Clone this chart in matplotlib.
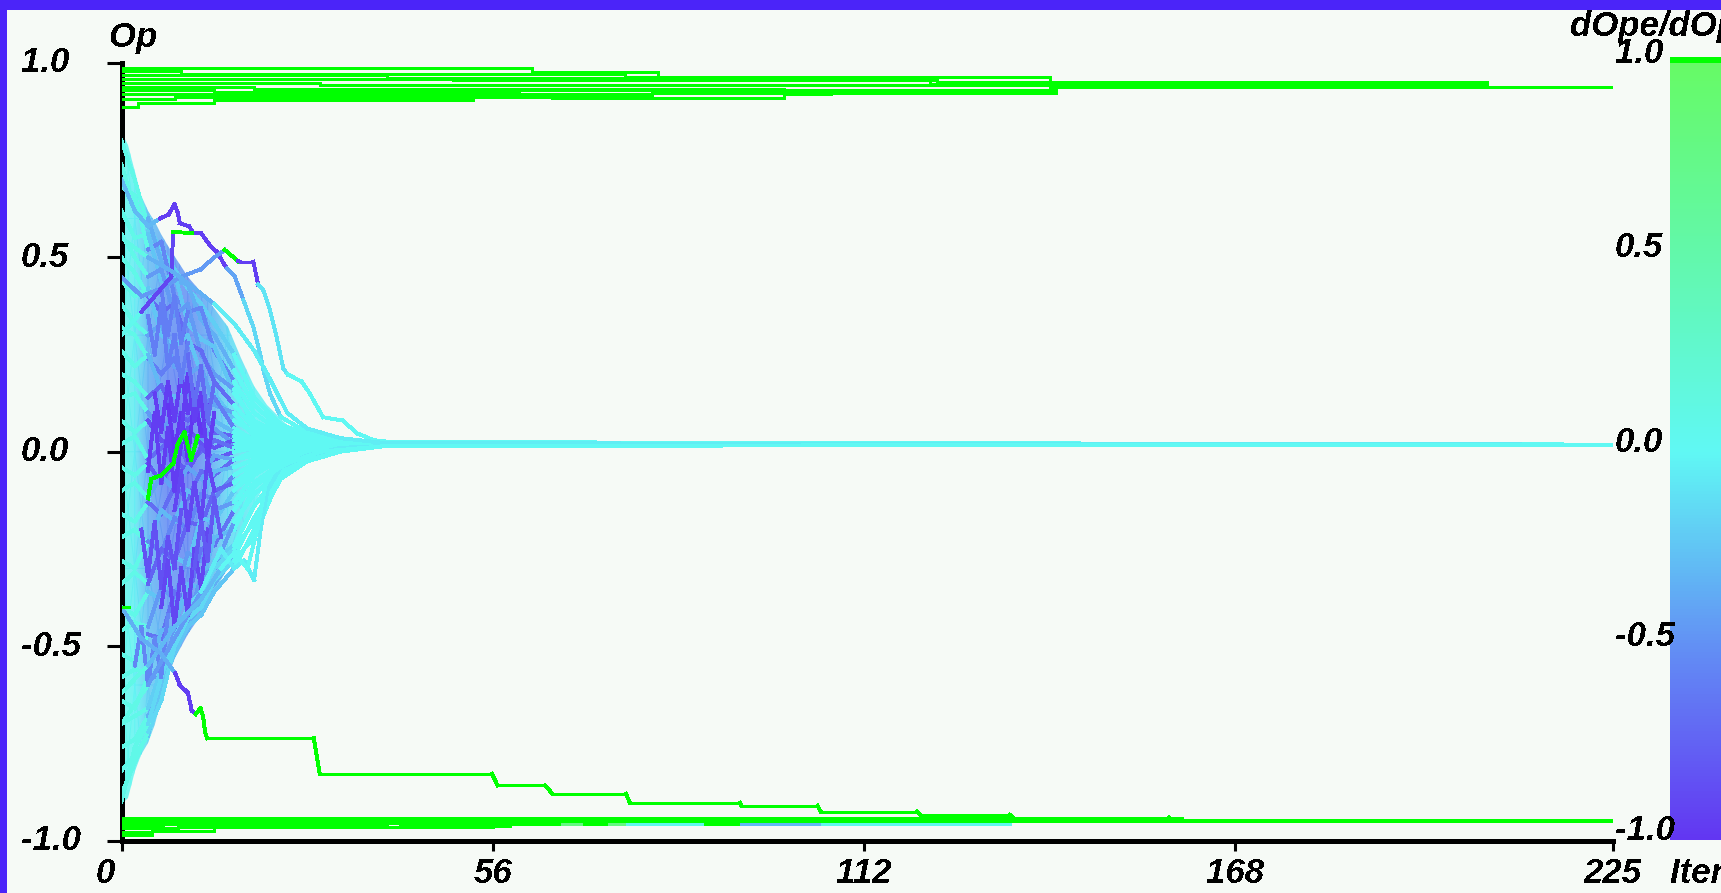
import numpy as np
import matplotlib
matplotlib.use("Agg")
import matplotlib.pyplot as plt
from matplotlib.colors import LinearSegmentedColormap, Normalize
from matplotlib.collections import LineCollection
from matplotlib.colorbar import ColorbarBase
from matplotlib.patches import Polygon, Rectangle
from matplotlib.transforms import ScaledTranslation, blended_transform_factory

plt.rcParams['text.antialiased'] = False
plt.rcParams['font.family'] = ['Liberation Sans', 'DejaVu Sans']

# ---------------------------------------------------------------- data
X_TICKS = [0, 56, 112, 168, 225]
Y_TICKS = [1.0, 0.5, 0.0, -0.5, -1.0]
CB_TICKS = [1.0, 0.5, 0.0, -0.5, -1.0]
N_ITER = 225

# agents that sit near +1 (iteration breakpoints, opinion held from there on)
UPPER_LINES = [
    ([0, 62, 81, 123, 206], [0.987, 0.976, 0.965, 0.950, 0.938]),
    ([0, 9, 76, 140, 206], [0.980, 0.972, 0.964, 0.948, 0.938]),
    ([0, 40, 81, 123, 206], [0.968, 0.962, 0.957, 0.950, 0.938]),
    ([0, 50, 122, 206], [0.958, 0.955, 0.947, 0.938]),
    ([0, 30, 140], [0.948, 0.944, 0.938]),
    ([0, 20, 100, 140], [0.938, 0.934, 0.930, 0.938]),
    ([0, 14, 60, 141], [0.930, 0.926, 0.930, 0.938]),
    ([0, 53, 80, 102, 141], [0.919, 0.921, 0.922, 0.928, 0.938]),
    ([0, 8, 65, 100, 107, 141], [0.908, 0.912, 0.910, 0.920, 0.930, 0.938]),
    ([0, 2.5, 14, 53, 80, 141], [0.888, 0.896, 0.905, 0.916, 0.922, 0.938]),
]

# agents that sit near -1
LOWER_LINES = [
    ([0, 160], [-0.941, -0.950]),
    ([0, 60], [-0.946, -0.950]),
    ([0, 7, 29], [-0.955, -0.952, -0.950]),
    ([0, 6.2, 29, 94], [-0.962, -0.958, -0.956, -0.950]),
    ([0, 8.5, 55.5, 58.6, 134], [-0.969, -0.966, -0.962, -0.957, -0.950]),
    ([0, 4.6, 8.5, 56, 110], [-0.978, -0.970, -0.966, -0.958, -0.950]),
    ([0, 4.6, 14, 40, 70], [-0.987, -0.975, -0.962, -0.955, -0.950]),
]

# spread of the converging population
ENV_ITERS = [0, 1, 2, 3, 4, 5, 6, 7, 8, 10, 12, 14, 16, 18, 20, 22, 25, 28, 32, 36, 40]
ENV_UPPER = [0.82, 0.79, 0.72, 0.66, 0.62, 0.59, 0.56, 0.53, 0.50, 0.45, 0.41, 0.37,
             0.32, 0.24, 0.17, 0.12, 0.07, 0.055, 0.04, 0.03, 0.022]
ENV_LOWER = [-0.905, -0.89, -0.82, -0.78, -0.75, -0.70, -0.64, -0.58, -0.53, -0.47, -0.42,
             -0.36, -0.30, -0.22, -0.14, -0.07, -0.03, -0.012, 0.0, 0.01, 0.015]

# typical dOpe/dOp inside the population, by iteration (columns) and opinion (rows)
SENS_ITERS = [0, 2, 4, 7, 10, 13, 16, 20, 40]
SENS_OPS = [-0.95, -0.6, -0.3, 0.0, 0.3, 0.6, 0.85]
SENS_GRID = [
    [0.06, 0.02, -0.08, -0.12, -0.15, -0.15, -0.08, 0.0, 0.0],
    [0.06, -0.02, -0.20, -0.30, -0.38, -0.30, -0.12, 0.0, 0.0],
    [0.08, -0.06, -0.32, -0.48, -0.52, -0.38, -0.15, -0.03, 0.0],
    [0.10, -0.06, -0.38, -0.62, -0.66, -0.42, -0.15, -0.03, 0.0],
    [0.08, -0.06, -0.32, -0.50, -0.55, -0.38, -0.15, -0.03, 0.0],
    [0.06, -0.05, -0.25, -0.38, -0.42, -0.32, -0.15, 0.0, 0.0],
    [0.05, 0.00, -0.15, -0.25, -0.25, -0.25, -0.08, 0.0, 0.0],
]

# individual trajectories of the converging population
FAN_ITERS = [0, 2, 4, 6, 8, 10, 12, 14, 17, 20, 24, 28, 33, 40, 225]
FAN_PATHS = [
    [0.80, 0.70, 0.58, 0.52, 0.47, 0.42, 0.38, 0.33, 0.25, 0.14, 0.07, 0.045, 0.03, 0.02, 0.0185],
    [0.74, 0.62, 0.60, 0.49, 0.44, 0.43, 0.34, 0.30, 0.21, 0.12, 0.06, 0.04, 0.03, 0.02, 0.0185],
    [0.68, 0.66, 0.52, 0.54, 0.40, 0.36, 0.37, 0.26, 0.18, 0.10, 0.05, 0.035, 0.025, 0.02, 0.0185],
    [0.62, 0.55, 0.56, 0.44, 0.46, 0.33, 0.29, 0.27, 0.15, 0.08, 0.045, 0.03, 0.025, 0.02, 0.0185],
    [0.56, 0.50, 0.45, 0.47, 0.35, 0.38, 0.25, 0.20, 0.16, 0.07, 0.04, 0.03, 0.022, 0.02, 0.0185],
    [0.50, 0.46, 0.40, 0.36, 0.38, 0.28, 0.26, 0.18, 0.12, 0.06, 0.035, 0.03, 0.02, 0.02, 0.0185],
    [0.44, 0.40, 0.42, 0.30, 0.27, 0.30, 0.20, 0.15, 0.08, 0.05, 0.03, 0.025, 0.02, 0.02, 0.0185],
    [0.38, 0.33, 0.30, 0.33, 0.22, 0.20, 0.22, 0.12, 0.10, 0.04, 0.03, 0.02, 0.02, 0.02, 0.0185],
    [0.32, 0.30, 0.24, 0.20, 0.24, 0.15, 0.12, 0.14, 0.06, 0.03, 0.025, 0.02, 0.02, 0.02, 0.0185],
    [0.26, 0.22, 0.25, 0.16, 0.14, 0.17, 0.09, 0.08, 0.05, 0.03, 0.02, 0.02, 0.02, 0.02, 0.0185],
    [0.20, 0.18, 0.14, 0.17, 0.10, 0.08, 0.11, 0.05, 0.04, 0.02, 0.02, 0.02, 0.02, 0.02, 0.0185],
    [0.14, 0.15, 0.10, 0.06, 0.09, 0.05, 0.03, 0.06, 0.02, 0.02, 0.015, 0.02, 0.02, 0.02, 0.0185],
    [0.08, 0.05, 0.08, 0.03, 0.01, 0.06, 0.02, 0.01, 0.03, 0.01, 0.02, 0.02, 0.02, 0.02, 0.0185],
    [0.02, 0.04, -0.02, 0.01, 0.04, -0.03, 0.00, 0.03, 0.01, 0.02, 0.01, 0.015, 0.02, 0.02, 0.0185],
    [-0.04, -0.06, -0.03, -0.08, -0.02, -0.05, 0.01, -0.02, 0.00, 0.01, 0.015, 0.02, 0.02, 0.02, 0.0185],
    [-0.10, -0.08, -0.12, -0.06, -0.10, -0.04, -0.07, -0.01, -0.02, 0.00, 0.01, 0.015, 0.02, 0.02, 0.0185],
    [-0.16, -0.18, -0.13, -0.16, -0.09, -0.12, -0.05, -0.06, -0.02, -0.01, 0.005, 0.01, 0.018, 0.02, 0.0185],
    [-0.22, -0.20, -0.24, -0.15, -0.18, -0.10, -0.12, -0.05, -0.04, -0.02, 0.0, 0.01, 0.015, 0.02, 0.0185],
    [-0.28, -0.30, -0.23, -0.26, -0.17, -0.20, -0.11, -0.12, -0.06, -0.03, -0.01, 0.005, 0.015, 0.02, 0.0185],
    [-0.34, -0.31, -0.34, -0.25, -0.28, -0.18, -0.19, -0.10, -0.08, -0.04, -0.01, 0.0, 0.012, 0.02, 0.0185],
    [-0.40, -0.42, -0.36, -0.38, -0.27, -0.29, -0.17, -0.18, -0.10, -0.05, -0.02, 0.0, 0.01, 0.018, 0.0185],
    [-0.46, -0.44, -0.45, -0.35, -0.38, -0.26, -0.28, -0.15, -0.13, -0.06, -0.02, -0.005, 0.01, 0.018, 0.0185],
    [-0.52, -0.54, -0.47, -0.48, -0.36, -0.38, -0.25, -0.24, -0.15, -0.08, -0.03, -0.01, 0.008, 0.018, 0.0185],
    [-0.58, -0.56, -0.57, -0.46, -0.45, -0.34, -0.35, -0.22, -0.20, -0.09, -0.04, -0.01, 0.005, 0.017, 0.0185],
    [-0.64, -0.66, -0.58, -0.58, -0.46, -0.44, -0.32, -0.30, -0.18, -0.11, -0.05, -0.015, 0.005, 0.016, 0.0185],
    [-0.70, -0.68, -0.66, -0.56, -0.52, -0.42, -0.40, -0.28, -0.24, -0.14, -0.05, -0.02, 0.0, 0.016, 0.0185],
    [-0.76, -0.74, -0.68, -0.62, -0.50, -0.46, -0.38, -0.34, -0.27, -0.17, -0.06, -0.02, 0.0, 0.015, 0.0185],
    [-0.82, -0.78, -0.73, -0.60, -0.52, -0.45, -0.42, -0.36, -0.30, -0.20, -0.07, -0.025, 0.0, 0.015, 0.0185],
    [-0.88, -0.80, -0.72, -0.64, -0.50, -0.43, -0.40, -0.33, -0.28, -0.22, -0.06, -0.02, 0.0, 0.015, 0.0185],
    [-0.90, -0.76, -0.70, -0.58, -0.48, -0.40, -0.36, -0.30, -0.25, -0.18, -0.05, -0.02, 0.0, 0.015, 0.0185],
]
# dOpe/dOp of each trajectory: start phase, middle phase, settled phase
FAN_SENS_ITERS = [0, 3, 16]
FAN_SENS_START = 0.08
FAN_SENS_MID = [-0.20, -0.35, -0.55, -0.25, -0.45, -0.70, -0.25, -0.40, -0.60, -0.30,
                -0.75, -0.45, -0.85, -0.70, -0.80, -0.40, -0.70, -0.30, -0.55, -0.75,
                -0.25, -0.45, -0.65, -0.30, -0.45, -0.20, -0.35, -0.25, -0.15, -0.15]
FAN_SENS_END = 0.0

# per-iteration jitter of strongly negative dOpe/dOp agents: (first iteration, opinions)
STREAKS = [
    (5, [0.15, 0.05, 0.18, 0.08, 0.20, 0.10, 0.16, 0.04]),
    (7, [0.12, 0.00, 0.10, -0.02, 0.14, 0.05, 0.12]),
    (3, [-0.20, -0.32, -0.18, -0.35, -0.22, -0.30, -0.15]),
    (6, [-0.40, -0.28, -0.45, -0.30, -0.42, -0.25, -0.35, -0.20]),
    (4, [0.35, 0.25, 0.38, 0.22, 0.30, 0.18, 0.28]),
    (9, [0.05, 0.20, 0.08, 0.15, -0.02, 0.10]),
    (2, [-0.55, -0.45, -0.60, -0.48, -0.58, -0.42]),
    (8, [-0.15, -0.05, -0.20, -0.08, -0.18, -0.02, -0.10]),
    (10, [0.25, 0.12, 0.22, 0.08, 0.18]),
    (4, [-0.05, 0.10, -0.08, 0.06, -0.10, 0.02]),
    (6, [0.42, 0.30, 0.40, 0.28, 0.36]),
    (11, [-0.30, -0.18, -0.28, -0.12, -0.22]),
]
STREAK_SENS = [-0.95, -1.0, -0.85, -0.9, -0.6, -0.95, -0.55, -0.9, -0.7, -0.95, -0.6, -0.8]

# stragglers with their own dOpe/dOp history (value 2 = above the scale)
SPECIAL_PATHS = {
    'upper_purple': (
        [0, 2, 4, 5.8, 7.1, 8.0, 8.5, 8.8, 10.2, 10.8, 12.0, 13.4, 14.4, 15.4, 15.9, 17.1,
         18.4, 19.9, 20.9, 21.4, 22.4, 24, 27, 30, 35, 40, 225],
        [0.70, 0.62, 0.58, 0.60, 0.61, 0.637, 0.614, 0.588, 0.58, 0.563, 0.562, 0.53, 0.514,
         0.485, 0.472, 0.45, 0.39, 0.32, 0.253, 0.21, 0.15, 0.09, 0.06, 0.04, 0.03, 0.022, 0.0185],
        [0, 5.8, 15.9, 18.4, 24], [-0.30, -0.95, -0.40, -0.15, 0.0]),
    'upper_late': (
        [0, 3, 6, 9, 12, 14, 15.6, 17.6, 17.9, 19.9, 20.6, 21.4, 22.4, 23.4, 24.4, 25, 27.2,
         28.4, 30.4, 33.4, 35.5, 38, 40.5, 225],
        [0.45, 0.40, 0.42, 0.45, 0.47, 0.50, 0.519, 0.49, 0.489, 0.489, 0.43, 0.415, 0.364,
         0.295, 0.215, 0.20, 0.18, 0.15, 0.089, 0.08, 0.048, 0.03, 0.025, 0.0185],
        [0, 15.6, 17.6, 20.6, 25], [-0.45, 2.0, -0.95, -0.10, 0.0]),
    'upper_rise': (
        [0, 3, 6, 7.5, 7.8, 10.6],
        [0.30, 0.36, 0.42, 0.45, 0.565, 0.563],
        [0, 3, 7.8], [0.05, -0.90, 2.0]),
    'upper_cyan': (
        [0, 4, 8, 11, 14, 17, 20, 22, 25, 28, 33, 40, 225],
        [0.55, 0.50, 0.46, 0.42, 0.38, 0.33, 0.26, 0.20, 0.10, 0.06, 0.035, 0.022, 0.0185],
        [0, 3, 12], [0.10, -0.35, -0.05]),
    'lower_a': (
        [0, 4, 8, 12, 15, 17, 18.5, 20, 21, 22, 24, 28, 33, 40, 225],
        [-0.70, -0.60, -0.48, -0.36, -0.25, -0.30, -0.28, -0.33, -0.20, -0.10, -0.04,
         -0.01, 0.01, 0.015, 0.0185],
        [0, 3, 12], [0.10, -0.45, -0.05]),
    'lower_b': (
        [0, 4, 8, 12, 15, 17, 19, 20.5, 22, 25, 30, 40, 225],
        [-0.62, -0.55, -0.45, -0.38, -0.30, -0.26, -0.30, -0.20, -0.06, -0.03, 0.0, 0.015, 0.0185],
        [0, 3, 13], [0.10, -0.30, 0.0]),
    'lower_drift': (
        [0, 3, 6, 8.1, 8.8, 10.0, 10.6, 11.2, 11.9, 12.3, 12.6, 12.9, 29, 29.9, 55.9, 56.7,
         63.9, 65, 76.1, 76.7, 93.3, 93.5, 105, 105.5, 120, 120.5, 134, 134.5, 158, 158.5, 225],
        [-0.40, -0.48, -0.52, -0.57, -0.60, -0.62, -0.665, -0.675, -0.66, -0.68, -0.72,
         -0.737, -0.737, -0.828, -0.828, -0.858, -0.858, -0.880, -0.880, -0.903, -0.903,
         -0.911, -0.911, -0.926, -0.926, -0.934, -0.934, -0.941, -0.941, -0.9485, -0.9485],
        [0, 8.1, 10.8], [-0.35, -0.95, 2.0]),
    'lower_flicker': (
        [42, 66.4, 69.7, 73.6, 76.3, 88, 93.5, 105.7, 134],
        [-0.958] * 9,
        [42, 66.4, 69.7, 73.6, 76.3, 88, 93.5, 105.7], [2.0, 0.8, 2.0, 0.8, 0.05, 2.0, -0.3, 0.05]),
    'centre_green': (
        [4, 4.5, 6, 7.8, 8.5, 9.5, 10.5, 11.5],
        [-0.12, -0.07, -0.06, -0.03, 0.02, 0.05, -0.02, 0.04],
        [0], [2.0]),
    'early_green': (
        [0.3, 1.2], [-0.40, -0.40], [0], [2.0]),
}

# ---------------------------------------------------------------- style
W, H, DPI = 1721, 893, 100
FRAME = '#4b24f9'
PAPER = '#f6faf6'
FONT = dict(fontsize=25, fontweight='bold', fontstyle='italic', color='black')
LW = 2.1

cmap = LinearSegmentedColormap.from_list(
    'sens', [(0.0, '#6236f2'), (0.25, '#6290f4'), (0.5, '#60f8f4'),
             (0.75, '#62f8ac'), (1.0, '#66fa66')], N=256).with_extremes(over='#00ff00')
norm = Normalize(-1, 1)


def fx(px):
    return px / W


def fy(py):
    return 1 - py / H


def sens_at(x, change_iters, change_vals):
    k = np.searchsorted(change_iters, x, side='right') - 1
    return change_vals[max(k, 0)]


def draw_path(ax, iters, vals, change_iters, change_vals, z=3, lw=LW):
    pts = np.column_stack([iters, vals])
    segs = np.stack([pts[:-1], pts[1:]], axis=1)
    cols = [cmap(norm(sens_at(x, change_iters, change_vals))) for x in iters[:-1]]
    lc = LineCollection(segs, colors=cols, linewidths=lw, antialiaseds=False,
                        capstyle='projecting', zorder=z)
    ax.add_collection(lc)


def draw_steps(ax, iters, vals, z=4):
    xs = list(iters) + [N_ITER]
    ys = list(vals) + [vals[-1]]
    ax.plot(xs, ys, drawstyle='steps-post', color=cmap(norm(2.0)), lw=LW,
            antialiased=False, solid_capstyle='butt', zorder=z)


fig = plt.figure(figsize=(W / DPI, H / DPI), dpi=DPI, facecolor=FRAME)
fig.add_artist(Rectangle((fx(7), 0), 1, fy(10), transform=fig.transFigure,
                         facecolor=PAPER, edgecolor='none', zorder=-10))

ax = fig.add_axes([fx(121.5), fy(840.5), (1613 - 121.5) / W, (840.5 - 63) / H])
ax.set_facecolor('none')
ax.set_xlim(0, N_ITER)
ax.set_ylim(-1, 1)
for side in ('top', 'right'):
    ax.spines[side].set_visible(False)
for side in ('left', 'bottom'):
    ax.spines[side].set_linewidth(2.2)
    ax.spines[side].set_antialiased(False)

# population band coloured by its typical dOpe/dOp
band = Polygon(np.column_stack([ENV_ITERS + ENV_ITERS[::-1], ENV_UPPER + ENV_LOWER[::-1]]),
               closed=True, facecolor='none', edgecolor='none', transform=ax.transData)
ax.add_patch(band)
gx, gy = np.meshgrid(SENS_ITERS, SENS_OPS)
mesh = ax.pcolormesh(gx, gy, np.array(SENS_GRID), cmap=cmap, norm=norm,
                     shading='gouraud', alpha=0.85, zorder=2)
mesh.set_clip_path(band)

for path, mid in zip(FAN_PATHS, FAN_SENS_MID):
    draw_path(ax, FAN_ITERS, path, FAN_SENS_ITERS, [FAN_SENS_START, mid, FAN_SENS_END])

for (start, vals), s in zip(STREAKS, STREAK_SENS):
    draw_path(ax, list(range(start, start + len(vals))), vals, [0], [s], z=3.5)

for iters, vals in UPPER_LINES + LOWER_LINES:
    draw_steps(ax, iters, vals)

for iters, vals, c_it, c_val in SPECIAL_PATHS.values():
    draw_path(ax, iters, vals, c_it, c_val, z=5)

# axes ticks and labels
ax.set_xticks(X_TICKS)
ax.set_xticklabels([str(t) for t in X_TICKS], **FONT)
ax.tick_params(axis='x', length=7.2, width=2.2, pad=5, direction='out')
ax.set_yticks(Y_TICKS)
ax.set_yticklabels([])
ax.tick_params(axis='y', length=10.8, width=2.2, direction='out')
first = ax.get_xticklabels()[0]
first.set_transform(first.get_transform() + ScaledTranslation(-16 / DPI, 0, fig.dpi_scale_trans))

ytrans = blended_transform_factory(fig.transFigure, ax.transData)
for v in Y_TICKS:
    ax.text(fx(21), v, f'{v:.1f}', transform=ytrans, ha='left', va='center', **FONT)

fig.text(fx(109), fy(47), 'Op', ha='left', va='baseline', **FONT)
fig.text(fx(1670), fy(883), 'Iter', ha='left', va='baseline', **FONT)

# colour scale
cax = fig.add_axes([fx(1670), fy(840), 70 / W, (840 - 63) / H])
cb = ColorbarBase(cax, cmap=cmap, norm=norm, orientation='vertical')
cb.outline.set_visible(False)
cb.set_ticks([])
fig.add_artist(Rectangle((fx(1670), fy(63)), 70 / W, 6 / H, transform=fig.transFigure,
                         facecolor=cmap(norm(2.0)), edgecolor='none', zorder=6))
ctrans = blended_transform_factory(fig.transFigure, cax.transData)
for v in CB_TICKS:
    fig.text(fx(1615), v, f'{v:.1f}', transform=ctrans, ha='left', va='baseline', **FONT)
fig.text(fx(1570), fy(36), 'dOpe/dOp', ha='left', va='baseline', **FONT)

fig.add_artist(Rectangle((0, fy(10)), 1, 10 / H, transform=fig.transFigure,
                         facecolor=FRAME, edgecolor='none', zorder=20))

fig.savefig('out.png', dpi=DPI, facecolor=FRAME)
